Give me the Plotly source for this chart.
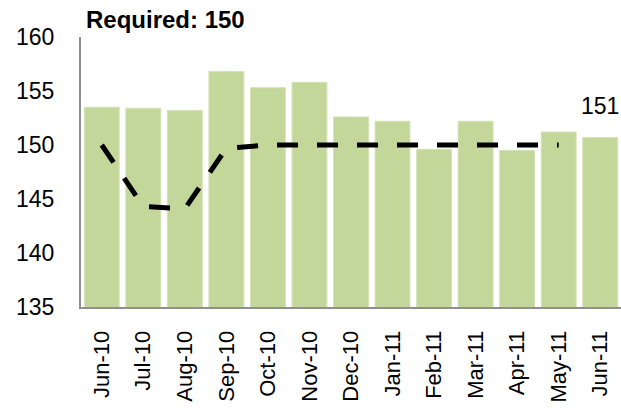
import plotly.graph_objects as go

months = ["Jun-10", "Jul-10", "Aug-10", "Sep-10", "Oct-10", "Nov-10", "Dec-10",
          "Jan-11", "Feb-11", "Mar-11", "Apr-11", "May-11", "Jun-11"]
actual = [153.5, 153.4, 153.2, 156.8, 155.3, 155.8, 152.6, 152.2, 149.6, 152.2, 149.5, 151.2, 150.7]
required_line = [150.0, 144.3, 144.1, 149.7, 150.0, 150.0, 150.0, 150.0, 150.0, 150.0, 150.0, 150.0, None]
required_value = 150
y_ticks = [135, 140, 145, 150, 155, 160]

FONT = "Liberation Sans, Arial, sans-serif"

fig = go.Figure()
fig.add_trace(go.Bar(
    x=months, y=actual,
    marker=dict(color="#C4D79B", line=dict(color="#D3E2B4", width=1)),
    hoverinfo="x+y",
))
fig.add_trace(go.Scatter(
    x=months, y=required_line, mode="lines",
    line=dict(color="black", width=5, dash="21px,19px"),
    connectgaps=False,
))

fig.add_annotation(
    x=months[-1], y=actual[-1], xref="x", yref="y",
    text=f"{round(actual[-1])}", showarrow=False,
    yanchor="bottom", yshift=16,
    font=dict(family=FONT, size=23, color="black"),
)
fig.add_annotation(
    x=0.006, y=1.063, xref="paper", yref="paper",
    text=f"<b>Required: {required_value}</b>", showarrow=False,
    xanchor="left", yanchor="middle",
    font=dict(family=FONT, size=24, color="black"),
)

fig.update_layout(
    width=621, height=410,
    margin=dict(l=81, r=0, t=37, b=103, autoexpand=False),
    paper_bgcolor="white", plot_bgcolor="white",
    showlegend=False, bargap=0.16,
    font=dict(family=FONT, color="black"),
)
fig.update_xaxes(
    type="category", range=[-0.5, len(months) - 0.5], automargin=False,
    showgrid=False, showline=True, linecolor="#8f8f8f", linewidth=2,
    tickangle=-90, ticks="", ticklabelstandoff=13,
    tickfont=dict(family=FONT, size=22, color="black"),
)
fig.update_yaxes(
    range=[135, 160], tickvals=y_ticks, ticktext=[str(v) for v in y_ticks],
    automargin=False,
    showgrid=False, zeroline=False, showline=True, linecolor="#8f8f8f", linewidth=2,
    ticks="", ticklabelstandoff=20,
    tickfont=dict(family=FONT, size=23, color="black"),
)

fig.write_html(
    "out.html",
    config={"displayModeBar": False},
    post_script="document.body.style.margin='0';document.body.style.overflow='hidden';",
)
